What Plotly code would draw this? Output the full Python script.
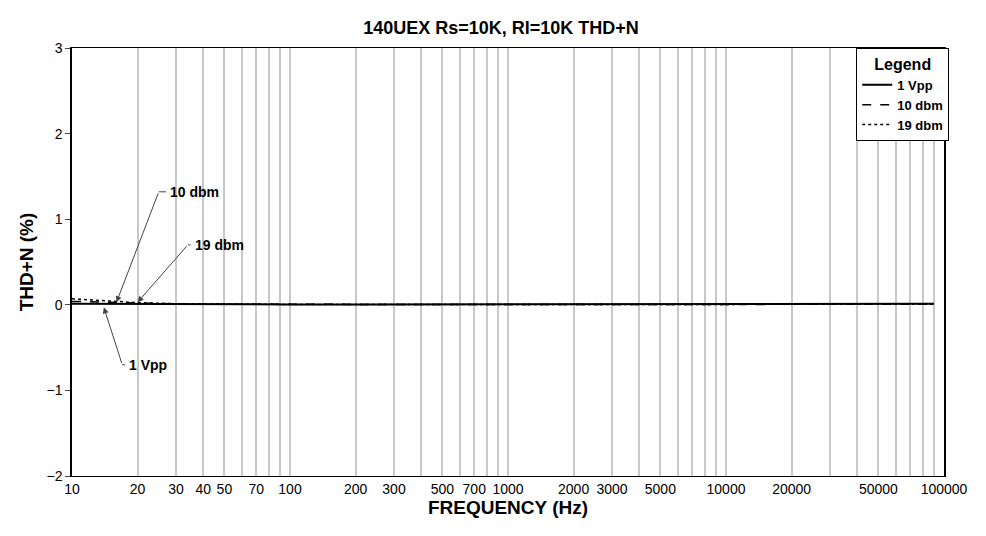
import plotly.graph_objects as go
import math

freq = [10, 12, 15, 20, 30, 50, 100, 200, 500, 1000, 2000, 5000, 10000, 20000, 50000, 60000, 90000]
vpp1 = [0.012, 0.011, 0.010, 0.008, 0.006, 0.005, 0.004, 0.004, 0.004, 0.004, 0.004, 0.004, 0.004, 0.005, 0.006, 0.012, 0.012]
dbm10 = [0.04, 0.035, 0.03, 0.02, 0.01, 0.006, 0.004, 0.003, 0.003, 0.003, 0.003, 0.003, 0.003, 0.004, 0.006, 0.008, 0.008]
dbm19 = [0.07, 0.06, 0.045, 0.025, 0.012, 0.006, 0.004, 0.003, 0.003, 0.003, 0.003, 0.003, 0.003, 0.004, 0.005, 0.006, 0.006]
tick_vals = [10, 20, 30, 40, 50, 70, 100, 200, 300, 500, 700, 1000, 2000, 3000, 5000, 10000, 20000, 50000, 100000]
minor_vals = [m * 10**e for e in range(1, 5) for m in range(1, 10)] + [100000]
# label, arrow head (Hz, %), arrow tail (Hz, %), text left (Hz)
annots = [("10 dbm", 16, 0.03, 25, 1.32, 27), ("19 dbm", 20, 0.03, 34, 0.70, 35), ("1 Vpp", 14, -0.03, 17, -0.70, 17.5)]

fig = go.Figure()
fig.add_trace(go.Scatter(x=freq, y=vpp1, name="1 Vpp", mode="lines", line=dict(color="black", width=2, dash="solid")))
fig.add_trace(go.Scatter(x=freq, y=dbm10, name="10 dbm", mode="lines", line=dict(color="black", width=1.5, dash="dash")))
fig.add_trace(go.Scatter(x=freq, y=dbm19, name="19 dbm", mode="lines", line=dict(color="black", width=1.5, dash="dot")))

font_b = dict(family="Arial, Liberation Sans", size=14, color="black")
for txt, hx, hy, tx, ty, lx in annots:
    fig.add_annotation(x=math.log10(hx), y=hy, ax=math.log10(tx), ay=ty, axref="x", ayref="y",
                       text="", showarrow=True, arrowhead=2, arrowsize=1.2, arrowwidth=1, arrowcolor="#444")
    fig.add_shape(type="line", x0=tx, x1=lx, y0=ty, y1=ty, line=dict(color="#444", width=1))
    fig.add_annotation(x=math.log10(lx), y=ty, text="<b>%s</b>" % txt, showarrow=False, xanchor="left",
                       font=font_b, xshift=2)

fig.update_layout(
    width=986, height=536, plot_bgcolor="white", paper_bgcolor="white",
    margin=dict(l=64, r=50, t=40, b=68),
    title=dict(text="<b>140UEX Rs=10K, Rl=10K THD+N</b>", x=0.5, xanchor="center", y=0.975,
               font=dict(family="Arial, Liberation Sans", size=18, color="black")),
    font=dict(family="Arial, Liberation Sans", color="black"),
    legend=dict(title=dict(text="<b>Legend</b>", side="top center"), x=1.006, y=1.0, xanchor="right", yanchor="top",
                bgcolor="white", bordercolor="black", borderwidth=1, font=dict(size=13, weight="bold"), itemwidth=30),
    xaxis=dict(type="log", range=[1, 5], tickvals=tick_vals, ticktext=[str(v) for v in tick_vals],
               tickfont=dict(size=14), showgrid=True, gridcolor="#c8c8c8", gridwidth=1.5,
               minor=dict(tickvals=minor_vals, showgrid=True, gridcolor="#c8c8c8", gridwidth=1.5),
               showline=True, linecolor="black", mirror=True, ticks="",
               title=dict(text="<b>FREQUENCY (Hz)</b>", font=dict(size=19), standoff=4)),
    yaxis=dict(range=[-2, 3], dtick=1, showgrid=False, zeroline=False, tickfont=dict(size=14),
               showline=True, linecolor="black", linewidth=1.5, mirror=True, ticks="outside", ticklen=5,
               title=dict(text="<b>THD+N (%)</b>", font=dict(size=19), standoff=8)),
)
fig.write_html("out.html")
